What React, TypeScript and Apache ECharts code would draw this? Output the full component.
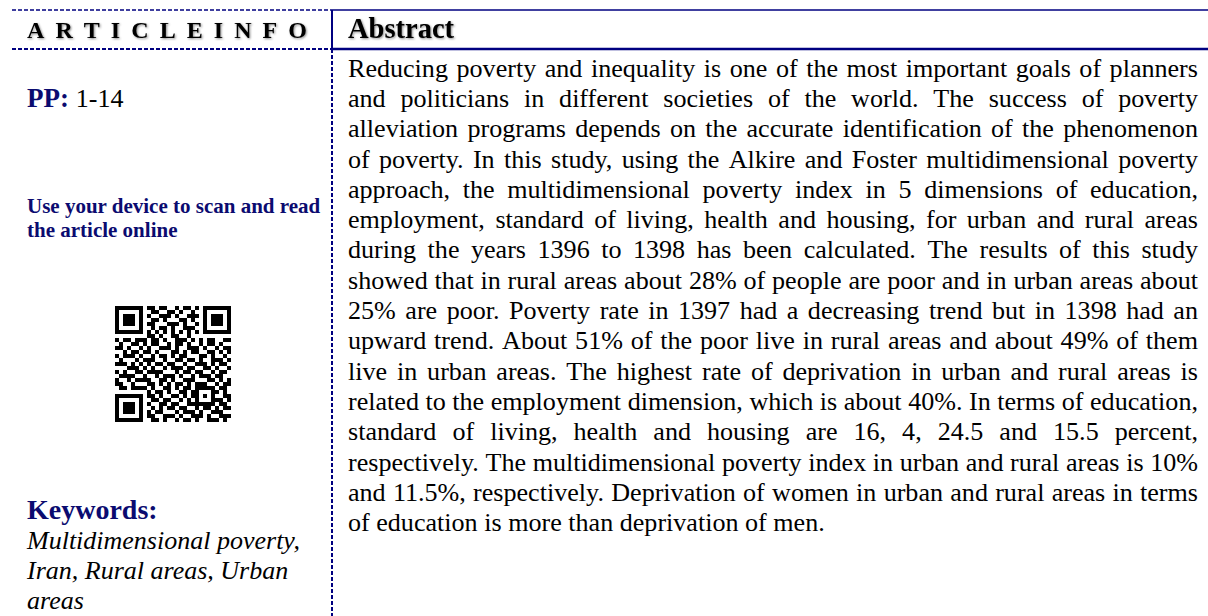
import React, { useEffect, useRef } from 'react';
import * as echarts from 'echarts';

// ---------- content ----------
const headerLeftLetters = ['A', 'R', 'T', 'I', 'C', 'L', 'E', 'I', 'N', 'F', 'O'];
const headerRight = 'Abstract';
const ppLabel = 'PP:';
const ppValue = '1-14';
const scanLines = ['Use your device to scan and read', 'the article online'];
const keywordsLabel = 'Keywords:';
const keywordLines = ['Multidimensional poverty,', 'Iran, Rural areas, Urban', 'areas'];
const abstractLines = [
  'Reducing poverty and inequality is one of the most important goals of planners',
  'and politicians in different societies of the world. The success of poverty',
  'alleviation programs depends on the accurate identification of the phenomenon',
  'of poverty. In this study, using the Alkire and Foster multidimensional poverty',
  'approach, the multidimensional poverty index in 5 dimensions of education,',
  'employment, standard of living, health and housing, for urban and rural areas',
  'during the years 1396 to 1398 has been calculated. The results of this study',
  'showed that in rural areas about 28% of people are poor and in urban areas about',
  '25% are poor. Poverty rate in 1397 had a decreasing trend but in 1398 had an',
  'upward trend. About 51% of the poor live in rural areas and about 49% of them',
  'live in urban areas. The highest rate of deprivation in urban and rural areas is',
  'related to the employment dimension, which is about 40%. In terms of education,',
  'standard of living, health and housing are 16, 4, 24.5 and 15.5 percent,',
  'respectively. The multidimensional poverty index in urban and rural areas is 10%',
  'and 11.5%, respectively. Deprivation of women in urban and rural areas in terms',
  'of education is more than deprivation of men.',
];
// QR code modules ('1' = dark)
const qrRows = [
  '1111111' + '0' + '1101100101101' + '0' + '1111111',
  '1000001' + '0' + '0110011010010' + '0' + '1000001',
  '1011101' + '0' + '1001110100111' + '0' + '1011101',
  '1011101' + '0' + '0110100011010' + '0' + '1011101',
  '1011101' + '0' + '1100011101001' + '0' + '1011101',
  '1000001' + '0' + '0101101001110' + '0' + '1000001',
  '1111111' + '0' + '1010101010101' + '0' + '1111111',
  '0000000' + '0' + '1101001100100' + '0' + '0000000',
  '101101' + '1' + '1' + '0110100111010' + '10110011',
  '010011' + '0' + '1011001011010010110100',
  '110100' + '1' + '0100111010011101001011',
  '001011' + '0' + '1101000110101100110101',
  '101110' + '1' + '0010110101100011010010',
  '010001' + '0' + '1110010011011010011101',
  '111010' + '1' + '0101101100100111010110',
  '000111' + '0' + '1010010111011001101001',
  '101001' + '1' + '0111100010110110010110',
  '011110' + '0' + '1001011101001011101100',
  '100101' + '1' + '1100110100111000110101',
  '110010' + '0' + '0110101011010111001011',
  '011011' + '1' + '1010011010110' + '11111' + '0110',
  '00000000' + '1' + '01101001101' + '10001' + '1010',
  '1111111' + '0' + '110100110101' + '10101' + '0011',
  '1000001' + '0' + '011011001010' + '10001' + '1101',
  '1011101' + '0' + '100110110011' + '11111' + '0110',
  '1011101' + '0' + '010101101100' + '10110' + '1011',
  '1011101' + '0' + '101100010111' + '01001' + '1100',
  '1000001' + '0' + '110011101001' + '11010' + '0111',
  '1111111' + '0' + '011010010110' + '10011' + '1010',
];

const W = 1208;
const H = 616;
const NAVY = '#000080';
const NAVY_TEXT = '#0b0b70';
const FAM = "'Liberation Serif', 'Times New Roman', serif";

export default function App() {
  const ref = useRef<HTMLDivElement>(null);
  useEffect(() => {
    document.body.style.margin = '0';
    const chart = echarts.init(ref.current!, null, { renderer: 'svg', width: W, height: H });
    const ctx = document.createElement('canvas').getContext('2d')!;
    const measure = (t: string, size: number, weight = 'normal', style = 'normal') => {
      ctx.font = `${style} ${weight} 100px ${FAM}`;
      return (ctx.measureText(t).width * size) / 100;
    };
    const els: any[] = [];
    const text = (
      t: string,
      x: number,
      baseline: number,
      size: number,
      o: { weight?: string; style?: string; color?: string; shadow?: boolean } = {}
    ) => {
      const style: any = {
        text: t,
        fontSize: size,
        fontFamily: FAM,
        fontWeight: o.weight || 'normal',
        fontStyle: o.style || 'normal',
        fill: o.color || '#000',
        textAlign: 'left',
        textVerticalAlign: 'middle',
        verticalAlign: 'middle',
      };
      if (o.shadow) {
        style.textShadowColor = 'rgba(0,0,0,0.45)';
        style.textShadowBlur = 2;
        style.textShadowOffsetX = 1;
        style.textShadowOffsetY = 1;
      }
      els.push({ type: 'text', x, y: baseline - 0.3375 * size, silent: true, style });
    };
    const line = (x1: number, y1: number, x2: number, y2: number, lw: number, dash?: number[]) => {
      els.push({
        type: 'line',
        silent: true,
        shape: { x1, y1, x2, y2 },
        style: { stroke: NAVY, lineWidth: lw, lineDash: dash || null },
      });
    };

    // ---- frame lines ----
    const VX = 332;
    line(12, 10, VX, 10, 1.5, [4, 2]);
    line(12, 49, VX, 49, 2, [4, 2]);
    line(VX, 10, W, 10, 1.5);
    line(VX, 49, W, 49, 2.5);
    line(VX, 10, VX, 49, 2);
    line(VX, 49, VX, H, 2, [4, 2]);

    // ---- header ----
    const hSize = 24;
    const hWidths = headerLeftLetters.map((c) => measure(c, hSize, 'bold'));
    const hTotal = hWidths.reduce((a, b) => a + b, 0);
    const hGap = (307 - 27 - hTotal) / (headerLeftLetters.length - 1);
    let hx = 27;
    headerLeftLetters.forEach((c, i) => {
      text(c, hx, 38, hSize, { weight: 'bold', shadow: true });
      hx += hWidths[i] + hGap;
    });
    text(headerRight, 348, 38, 28.5, { weight: 'bold', shadow: true });

    // ---- left column ----
    text(ppLabel, 27, 107, 27, { weight: 'bold', color: NAVY_TEXT });
    text(ppValue, 27 + measure(ppLabel + ' ', 27, 'bold'), 107, 26);
    scanLines.forEach((s, i) => text(s, 27, 213 + i * 24, 21, { weight: 'bold', color: NAVY_TEXT }));
    text(keywordsLabel, 27, 519, 28, { weight: 'bold', color: NAVY_TEXT });
    keywordLines.forEach((s, i) => text(s, 27, 549 + i * 30, 26, { style: 'italic' }));

    // ---- QR code ----
    const QX = 115;
    const QY = 306;
    const M = 4;
    qrRows.forEach((row, r) => {
      let c = 0;
      while (c < row.length) {
        if (row[c] === '1') {
          let e = c;
          while (e < row.length && row[e] === '1') e++;
          els.push({
            type: 'rect',
            silent: true,
            shape: { x: QX + c * M, y: QY + r * M, width: (e - c) * M, height: M },
            style: { fill: '#000' },
          });
          c = e;
        } else c++;
      }
    });

    // ---- abstract (justified) ----
    const X0 = 348;
    const X1 = 1198;
    const colW = X1 - X0;
    let fs = 26.5;
    abstractLines.slice(0, -1).forEach((l) => {
      const nat = measure(l, 100);
      fs = Math.min(fs, (colW / nat) * 100);
    });
    const Y0 = 77;
    const S = 30.3;
    abstractLines.forEach((l, i) => {
      const y = Y0 + i * S;
      const words = l.split(' ');
      const ww = words.map((w) => measure(w, fs));
      const last = i === abstractLines.length - 1;
      const gap = last
        ? measure(' ', fs)
        : (colW - ww.reduce((a, b) => a + b, 0)) / (words.length - 1);
      let x = X0;
      words.forEach((w, k) => {
        text(w, x, y, fs);
        x += ww[k] + gap;
      });
    });

    chart.setOption({
      animation: false,
      backgroundColor: '#ffffff',
      graphic: { elements: els },
    });
    return () => chart.dispose();
  }, []);
  return <div ref={ref} style={{ width: W, height: H }} />;
}
